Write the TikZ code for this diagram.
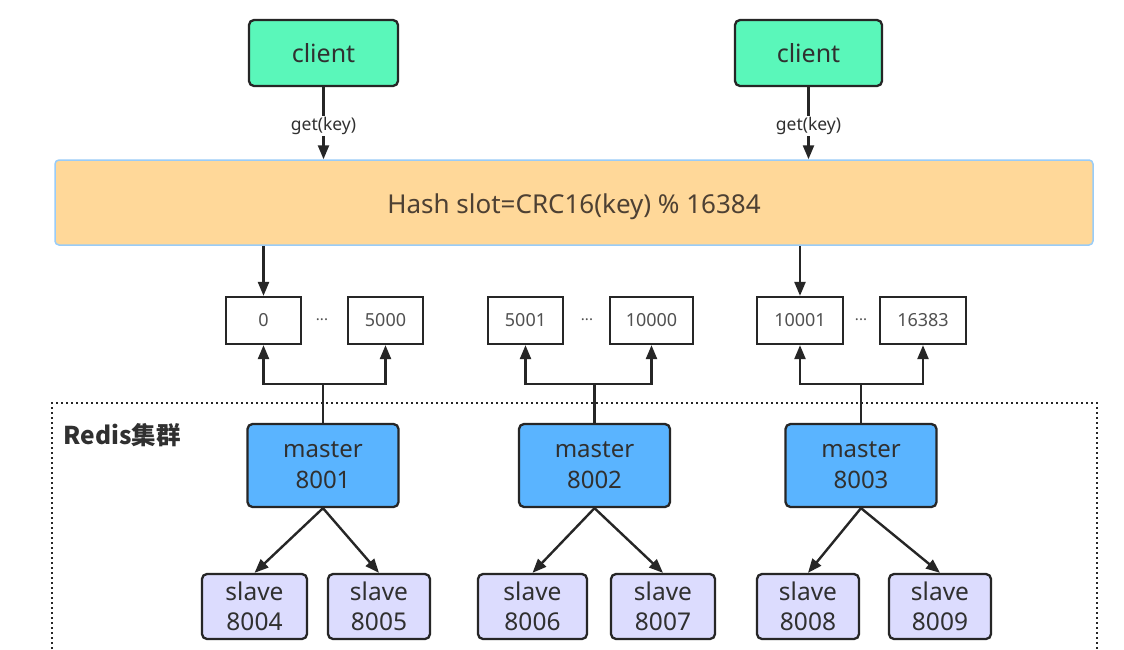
\documentclass[tikz,border=0pt]{standalone}
\usepackage{fontspec}
\setmainfont{Noto Sans}
\newfontfamily\cjk{Noto Sans CJK SC}
\usetikzlibrary{arrows.meta,calc}
\definecolor{clientfill}{HTML}{5AF7BA}
\definecolor{masterfill}{HTML}{5AB4FF}
\definecolor{slavefill}{HTML}{DCDCFE}
\definecolor{hashfill}{HTML}{FFD899}
\definecolor{hashline}{HTML}{99CCF8}
\definecolor{ink}{HTML}{262626}
\definecolor{txt}{HTML}{303030}
\definecolor{slottxt}{HTML}{505050}
\tikzset{
  x=1pt, y=-1pt,
  box/.style={draw=ink, line width=2.3pt, rounded corners=5pt, inner sep=0pt, align=center, text=txt,
              font=\fontsize{24}{29}\selectfont},
  clientbox/.style={box, fill=clientfill, minimum height=66pt, font=\fontsize{25}{30}\selectfont},
  masterbox/.style={box, fill=masterfill, minimum width=151pt, minimum height=83pt, font=\fontsize{24}{31}\selectfont},
  slavebox/.style={box, fill=slavefill, minimum height=65pt, font=\fontsize{24.5}{29.5}\selectfont},
  slotbox/.style={draw=ink, line width=2.3pt, fill=white, inner sep=0pt, minimum height=47pt,
                  text=slottxt, font=\fontsize{18}{21}\selectfont},
  dotsl/.style={text=slottxt, font=\fontsize{15}{18}\selectfont},
  arr/.style={draw=ink, line width=2.4pt, -{Triangle[length=14pt,width=11pt]}},
  conn/.style={draw=ink, line width=2.4pt},
  lbl/.style={fill=white, text=txt, inner sep=1pt, font=\fontsize{17.5}{20}\selectfont},
}
\begin{document}
\begin{tikzpicture}
\useasboundingbox[fill=white] (0,0) rectangle (1124,649);

% Redis cluster dotted frame
\draw[ink, line width=2.6pt, dash pattern=on 2.4pt off 2.6pt] (52,649) -- (52,403) -- (1097,403) -- (1097,649);
\node[anchor=west, text=txt, font=\cjk\bfseries\fontsize{24.5}{28}\selectfont] (redis) at (60,435) {Redis集群};

% clients
\node[clientbox, minimum width=149pt] (c1) at (323.5,53) {client};
\node[clientbox, minimum width=147pt] (c2) at (808.5,53) {client};

% hash slot box
\node[draw=hashline, line width=1.5pt, fill=hashfill, rounded corners=4pt, minimum width=1038pt, minimum height=85pt,
      text height=27pt, text depth=6pt,
      text=txt!80!brown, font=\fontsize{26}{31}\selectfont] (hash) at (574,202.5) {Hash slot=CRC16(key) \% 16384};

\draw[arr] (c1.south) -- node[lbl, pos=0.54] (g1) {get(key)} (c1.south |- hash.north);
\draw[arr] (c2.south) -- node[lbl, pos=0.54] (g2) {get(key)} (c2.south |- hash.north);

% slot boxes
\node[slotbox, minimum width=75pt] (s0) at (263.5,320.5) {0};
\node[dotsl] (d1) at (322,320) {...};
\node[slotbox, minimum width=75pt] (s5000) at (385.5,320.5) {5000};
\node[slotbox, minimum width=75pt] (s5001) at (525.5,320.5) {5001};
\node[dotsl] (d2) at (587,320) {...};
\node[slotbox, minimum width=83pt] (s10000) at (651.5,320.5) {10000};
\node[slotbox, minimum width=86pt] (s10001) at (800,320.5) {10001};
\node[dotsl] (d3) at (861,320) {...};
\node[slotbox, minimum width=86pt] (s16383) at (923,320.5) {16383};

\draw[arr] (hash.south -| s0.north) -- (s0.north);
\draw[arr] (hash.south -| s10001.north) -- (s10001.north);

% masters
\node[masterbox] (m1) at (323,465.5) {master\\8001};
\node[masterbox] (m2) at (594.5,465.5) {master\\8002};
\node[masterbox] (m3) at (861,465.5) {master\\8003};

\coordinate (j1) at (323,384);
\coordinate (j2) at (594.5,384);
\coordinate (j3) at (861,384);

\draw[conn] (m1.north) -- (j1);
\draw[arr] (j1) -| (s0.south);
\draw[arr] (j1) -| (s5000.south);
\draw[conn] (m2.north) -- (j2);
\draw[arr] (j2) -| (s5001.south);
\draw[arr] (j2) -| (s10000.south);
\draw[conn] (m3.north) -- (j3);
\draw[arr] (j3) -| (s10001.south);
\draw[arr] (j3) -| (s16383.south);

% slaves
\node[slavebox, minimum width=105pt] (sl4) at (254.5,606.5) {slave\\8004};
\node[slavebox, minimum width=102pt] (sl5) at (379,606.5) {slave\\8005};
\node[slavebox, minimum width=109pt] (sl6) at (532.5,606.5) {slave\\8006};
\node[slavebox, minimum width=104pt] (sl7) at (663,606.5) {slave\\8007};
\node[slavebox, minimum width=102pt] (sl8) at (808,606.5) {slave\\8008};
\node[slavebox, minimum width=102pt] (sl9) at (940,606.5) {slave\\8009};

\draw[arr] (m1.south) -- (sl4.north);
\draw[arr] (m1.south) -- (sl5.north);
\draw[arr] (m2.south) -- (sl6.north);
\draw[arr] (m2.south) -- (sl7.north);
\draw[arr] (m3.south) -- (sl8.north);
\draw[arr] (m3.south) -- (sl9.north);
\end{tikzpicture}
\end{document}
